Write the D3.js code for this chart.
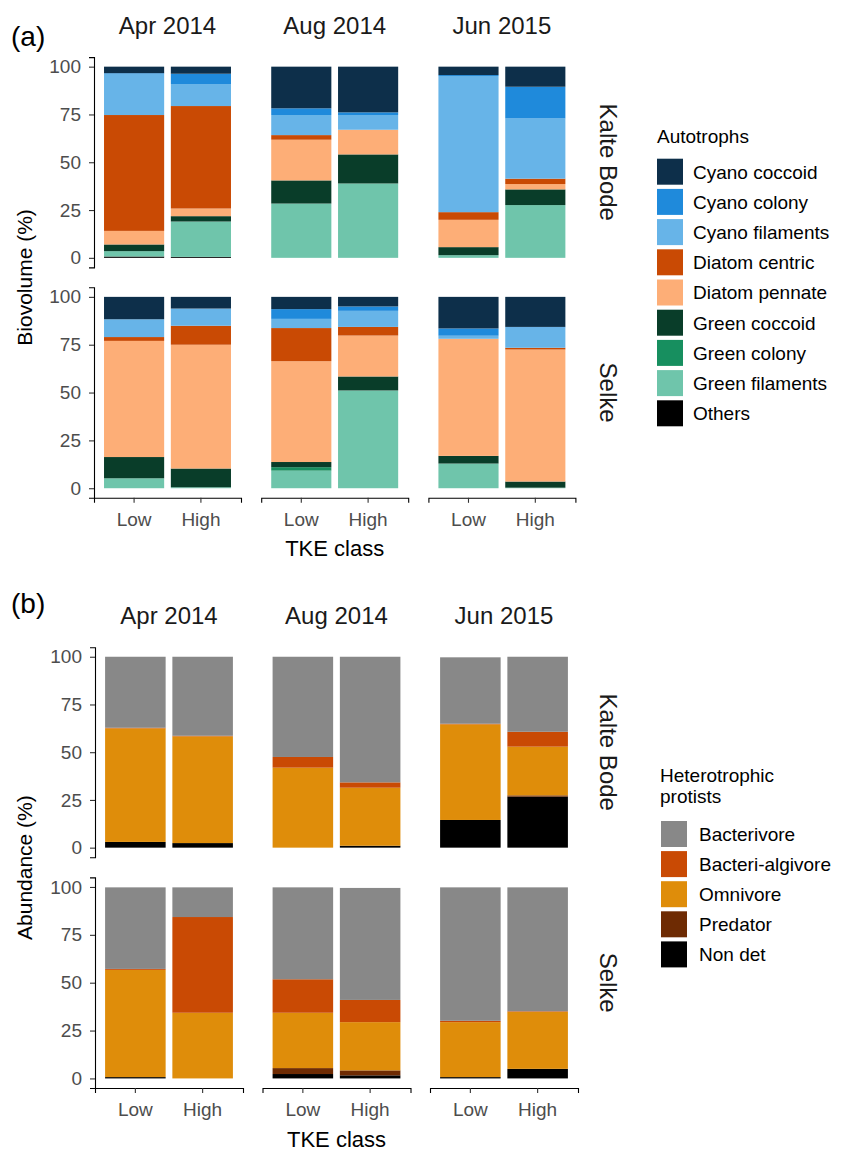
<!DOCTYPE html>
<html>
<head>
<meta charset="utf-8">
<script src="https://cdn.jsdelivr.net/npm/d3@7"></script>
<style>
  html, body { margin: 0; padding: 0; background: #fff; }
  svg { display: block; font-family: "Liberation Sans", Arial, Helvetica, sans-serif; }
</style>
</head>
<body>
<svg id="fig" width="848" height="1151"></svg>
<script>
// ---- facet layout keys ----
const sites = ["Kalte Bode", "Selke"];
const periods = ["Apr 2014", "Aug 2014", "Jun 2015"];
const tkeClasses = ["Low", "High"];
const yTicks = [0, 25, 50, 75, 100];

// ---- (a) autotroph biovolume (%) ----
// each array: Kalte Bode [Apr Low, Apr High, Aug Low, Aug High, Jun Low, Jun High], then Selke in the same order
const autotrophGroups = ["Cyano coccoid", "Cyano colony", "Cyano filaments", "Diatom centric",
  "Diatom pennate", "Green coccoid", "Green colony", "Green filaments", "Others"];
const autotrophColors = ["#0d2f4a", "#1f8adb", "#67b4e8", "#c94a04", "#fdae77",
  "#093d29", "#178f5f", "#6fc5ab", "#000000"];
const cyanoCoccoid   = [3.4, 3.7, 21.8, 23.9, 4.4, 10.5,   11.7, 6.1, 6.4, 5.0, 16.5, 15.7];
const cyanoColony    = [0.3, 5.4, 3.5, 1.4, 0.5, 16.6,     0.0, 0.0, 5.1, 2.3, 3.8, 0.3];
const cyanoFilaments = [21.6, 11.5, 10.5, 7.7, 71.2, 31.5, 9.3, 9.0, 4.8, 8.4, 1.6, 10.6];
const diatomCentric  = [60.6, 53.6, 2.4, 0.0, 4.0, 2.8,    2.0, 9.9, 17.3, 4.5, 0.0, 0.9];
const diatomPennate  = [7.1, 4.0, 21.3, 12.9, 14.3, 2.8,   60.7, 64.7, 52.7, 21.4, 61.2, 69.0];
const greenCoccoid   = [3.5, 2.8, 12.1, 15.2, 4.2, 8.2,    11.1, 9.8, 2.7, 7.3, 4.0, 3.2];
const greenColony    = [0.0, 0.0, 0.0, 0.0, 0.0, 0.0,      0.0, 0.0, 1.8, 0.0, 0.0, 0.0];
const greenFilaments = [2.8, 18.5, 28.4, 38.9, 1.4, 27.6,  5.2, 0.5, 9.2, 51.1, 12.9, 0.3];
const othersAuto     = [0.7, 0.5, 0.0, 0.0, 0.0, 0.0,      0.0, 0.0, 0.0, 0.0, 0.0, 0.0];
const autotrophSeries = [cyanoCoccoid, cyanoColony, cyanoFilaments, diatomCentric, diatomPennate,
  greenCoccoid, greenColony, greenFilaments, othersAuto];

// ---- (b) heterotrophic protist abundance (%) ----
const heteroGroups = ["Bacterivore", "Bacteri-algivore", "Omnivore", "Predator", "Non det"];
const heteroColors = ["#888888", "#c94a04", "#df8d0a", "#6e2b03", "#000000"];
const bacterivore     = [37.2, 41.4, 52.5, 65.8, 34.8, 39.3,  42.6, 15.5, 48.0, 58.5, 69.7, 64.7];
const bacteriAlgivore = [0.3, 0.3, 5.6, 2.8, 0.3, 7.8,        0.5, 50.0, 17.5, 11.6, 0.7, 0.3];
const omnivore        = [59.5, 55.9, 41.9, 30.4, 50.1, 25.5,  56.0, 34.3, 28.9, 25.2, 28.7, 29.8];
const predator        = [0.0, 0.0, 0.0, 0.0, 0.0, 0.7,        0.0, 0.0, 3.1, 2.6, 0.0, 0.0];
const nonDet          = [3.0, 2.4, 0.0, 1.0, 14.5, 26.7,      0.7, 0.0, 2.3, 1.6, 0.7, 5.0];
const heteroSeries = [bacterivore, bacteriAlgivore, omnivore, predator, nonDet];

// build long rows for a figure: one row per site/period/class with a field per group
function buildRows(groups, series) {
  const rows = [];
  sites.forEach((site, si) => periods.forEach((period, pi) => tkeClasses.forEach((cls, ci) => {
    const idx = si * 6 + pi * 2 + ci;
    const row = { site, period, cls };
    groups.forEach((g, gi) => { row[g] = series[gi][idx]; });
    rows.push(row);
  })));
  return rows;
}

const svg = d3.select("#fig");

function drawFigure(cfg) {
  const rows = buildRows(cfg.groups, cfg.series);
  const color = d3.scaleOrdinal().domain(cfg.groups).range(cfg.colors);
  // stack from the bottom: last group at the base, first group on top
  const stack = d3.stack().keys(cfg.groups.slice().reverse());
  const x = d3.scaleBand().domain(tkeClasses).range([0, cfg.panelW]).paddingInner(0.1).paddingOuter(0.15);

  const g = svg.append("g");

  sites.forEach((site, si) => {
    const top = cfg.rowTops[si], bottom = cfg.rowBottoms[si];
    const y = d3.scaleLinear().domain([-5, 105]).range([bottom, top]);

    periods.forEach((period, pi) => {
      const left = cfg.panelLefts[pi];
      const panel = g.append("g").attr("transform", `translate(${left},0)`);
      const data = rows.filter(r => r.site === site && r.period === period);
      const layers = stack(data);

      panel.selectAll("g.layer").data(layers).join("g")
        .attr("class", "layer")
        .attr("fill", d => color(d.key))
        .selectAll("rect").data(d => d).join("rect")
        .attr("x", d => x(d.data.cls))
        .attr("width", x.bandwidth())
        .attr("y", d => y(d[1]))
        .attr("height", d => Math.max(0, y(d[0]) - y(d[1])));

      // period strip above the top row
      if (si === 0) {
        g.append("text")
          .attr("x", left + cfg.panelW / 2).attr("y", top - 23)
          .attr("text-anchor", "middle").attr("font-size", 24).attr("fill", "#1a1a1a")
          .text(period);
      }

      // x axis under the bottom row
      if (si === sites.length - 1) {
        const ax = panel.append("g").attr("transform", `translate(0,${bottom})`)
          .call(d3.axisBottom(x).tickSizeOuter(0).tickSize(5).tickPadding(10));
        styleAxis(ax);
      }
    });

    // y axis on the leftmost panel of each row
    const ay = g.append("g").attr("transform", `translate(${cfg.panelLefts[0]},0)`)
      .call(d3.axisLeft(y).tickValues(yTicks).tickSizeOuter(0).tickSize(5).tickPadding(8));
    styleAxis(ay);

    // site strip on the right
    const cy = (top + bottom) / 2;
    g.append("text")
      .attr("transform", `translate(${cfg.stripX},${cy}) rotate(90)`)
      .attr("text-anchor", "middle").attr("font-size", 24).attr("fill", "#1a1a1a")
      .text(site);
  });

  // axis titles
  const plotLeft = cfg.panelLefts[0];
  const plotRight = cfg.panelLefts[2] + cfg.panelW;
  g.append("text")
    .attr("x", (plotLeft + plotRight) / 2).attr("y", cfg.rowBottoms[1] + 58.5)
    .attr("text-anchor", "middle").attr("font-size", 22).attr("fill", "#000")
    .text("TKE class");
  g.append("text")
    .attr("transform", `translate(32,${(cfg.rowTops[0] + cfg.rowBottoms[1]) / 2}) rotate(-90)`)
    .attr("text-anchor", "middle").attr("font-size", 21).attr("fill", "#000")
    .text(cfg.yTitle);

  // panel tag
  g.append("text").attr("x", 11).attr("y", cfg.tagY)
    .attr("font-size", 28).attr("fill", "#000").text(cfg.tag);

  // legend
  const lg = g.append("g");
  cfg.legendTitle.forEach((line, i) => {
    lg.append("text").attr("x", cfg.legendX).attr("y", cfg.legendTitleY + i * 21.5)
      .attr("font-size", 19).attr("fill", "#000").text(line);
  });
  const items = lg.selectAll("g.item").data(cfg.groups).join("g")
    .attr("class", "item")
    .attr("transform", (d, i) => `translate(${cfg.keyX},${cfg.keyY0 + i * cfg.keyStep})`);
  items.append("rect").attr("x", 0).attr("y", -13).attr("width", 26).attr("height", 26)
    .attr("fill", d => color(d));
  items.append("text").attr("x", cfg.labelDx).attr("y", 0).attr("dy", "0.36em")
    .attr("font-size", 19).attr("fill", "#000").text(d => d);
}

function styleAxis(sel) {
  sel.select(".domain").attr("stroke", "#000").attr("stroke-width", 1.1);
  sel.selectAll(".tick line").attr("stroke", "#333").attr("stroke-width", 1.1);
  sel.selectAll(".tick text").attr("font-size", 19).attr("fill", "#4d4d4d")
    .attr("font-family", "'Liberation Sans', Arial, sans-serif");
}

drawFigure({
  groups: autotrophGroups, colors: autotrophColors, series: autotrophSeries,
  panelLefts: [94, 261.2, 428.4], panelW: 147,
  rowTops: [57.1, 287.3], rowBottoms: [267.4, 497.8],
  stripX: 600, yTitle: "Biovolume (%)", tag: "(a)", tagY: 46,
  legendTitle: ["Autotrophs"], legendX: 657, legendTitleY: 143,
  keyX: 657, keyY0: 171.7, keyStep: 30.2, labelDx: 36
});

drawFigure({
  groups: heteroGroups, colors: heteroColors, series: heteroSeries,
  panelLefts: [95, 262.5, 430], panelW: 148,
  rowTops: [647.2, 877.4], rowBottoms: [857.2, 1088],
  stripX: 600, yTitle: "Abundance (%)", tag: "(b)", tagY: 613,
  legendTitle: ["Heterotrophic", "protists"], legendX: 660, legendTitleY: 781.7,
  keyX: 661, keyY0: 834, keyStep: 30.1, labelDx: 38
});
</script>
</body>
</html>
